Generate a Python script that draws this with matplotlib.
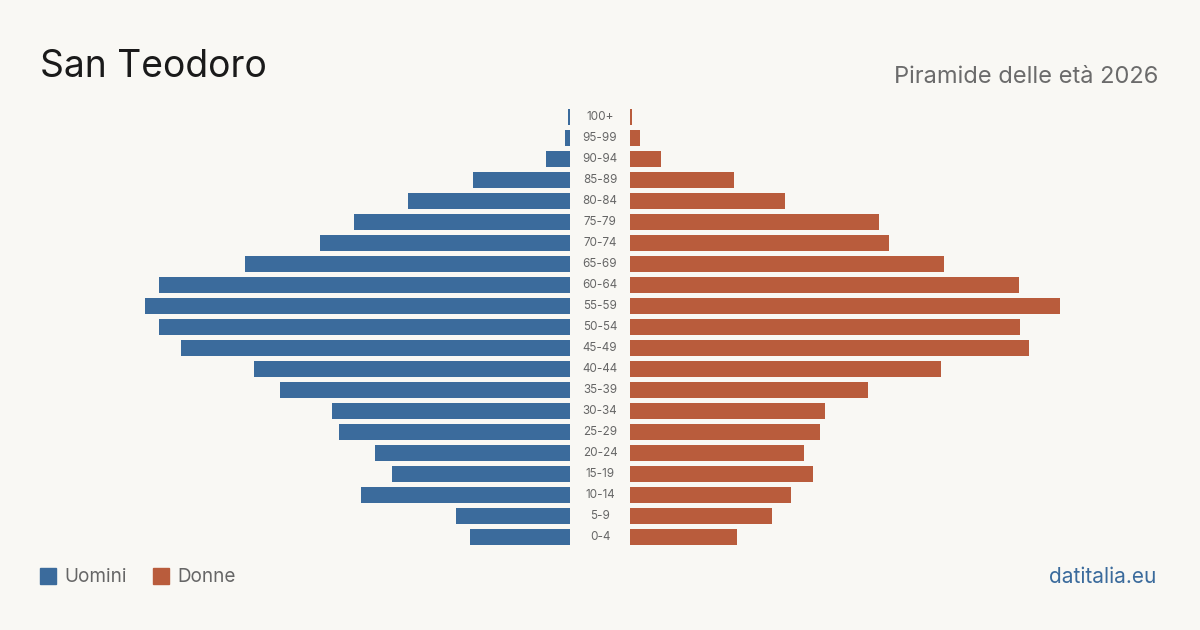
import matplotlib.pyplot as plt
from matplotlib.patches import Rectangle

plt.rcParams['font.family'] = ['Inter', 'DejaVu Sans']

ages = ['0-4', '5-9', '10-14', '15-19', '20-24', '25-29', '30-34', '35-39',
        '40-44', '45-49', '50-54', '55-59', '60-64', '65-69', '70-74',
        '75-79', '80-84', '85-89', '90-94', '95-99', '100+']
uomini = [100, 114, 209, 178, 195, 231, 238, 290, 316, 389, 411, 425, 411,
          325, 250, 216, 162, 97, 24, 5, 2]
donne = [107, 142, 161, 183, 174, 190, 195, 238, 311, 399, 390, 430, 389,
         314, 259, 249, 155, 104, 31, 10, 2]

bg = '#f9f8f4'
blue = '#3b6b9c'
orange = '#b95c3c'

W, H = 1200, 630
fig = plt.figure(figsize=(12, 6.3), dpi=100, facecolor=bg)

scale = 440
bottom = 82.5 / H
height = 441 / H
axl = fig.add_axes([(570 - scale) / W, bottom, scale / W, height])
axr = fig.add_axes([630 / W, bottom, scale / W, height])

ypos = list(range(len(ages)))
axl.barh(ypos, uomini, height=0.8, color=blue)
axr.barh(ypos, donne, height=0.8, color=orange)
axl.set_xlim(scale, 0)
axr.set_xlim(0, scale)
for ax in (axl, axr):
    ax.set_ylim(-0.5, len(ages) - 0.5)
    ax.axis('off')
    ax.set_facecolor(bg)

for i, a in enumerate(ages):
    axr.text(-30, i, a, ha='center', va='center', fontsize=8.4,
             color='#666666', clip_on=False)

fig.text(40 / W, 1 - 67 / H, 'San Teodoro', fontsize=26.8, color='#1a1a1a',
         va='center', ha='left')
fig.text(1158 / W, 1 - 77 / H, 'Piramide delle età 2026', fontsize=17,
         color='#6b6b6b', va='center', ha='right')

# legend
fig.patches.append(Rectangle((40 / W, 1 - 584 / H), 16 / W, 16 / H,
                             transform=fig.transFigure, color=blue))
fig.text(64 / W, 1 - 577 / H, 'Uomini', fontsize=13.6, color='#666666',
         va='center', ha='left')
fig.patches.append(Rectangle((153 / W, 1 - 584 / H), 16 / W, 16 / H,
                             transform=fig.transFigure, color=orange))
fig.text(177 / W, 1 - 577 / H, 'Donne', fontsize=13.6, color='#666666',
         va='center', ha='left')

fig.text(1156 / W, 1 - 577 / H, 'datitalia.eu', fontsize=15, color=blue,
         va='center', ha='right')

fig.savefig('out.png', dpi=100, facecolor=bg)
